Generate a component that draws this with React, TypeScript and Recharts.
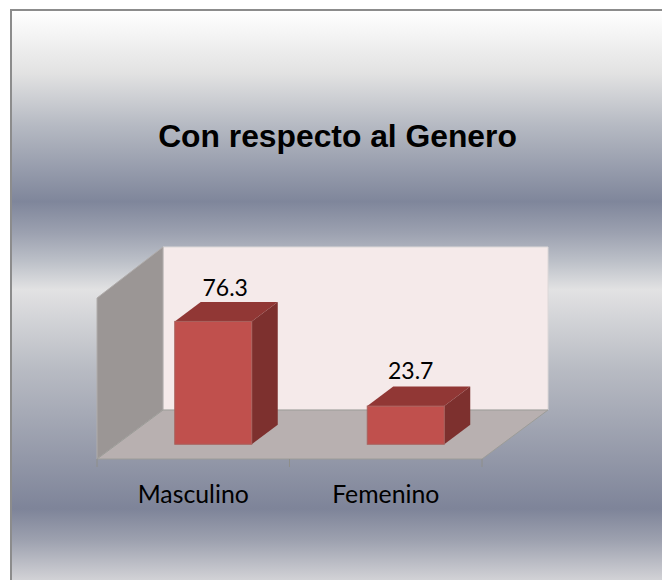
import { Bar, BarChart, LabelList, XAxis, YAxis, usePlotArea } from "recharts";

const categories = ["Masculino", "Femenino"];
const percentages = [76.3, 23.7];
const chartData = categories.map((name, i) => ({ name, value: percentages[i] }));

const WIDTH = 652;
const HEIGHT = 571;
const DEPTH_X = 66;
const DEPTH_Y = 49;
const WALL_RISE = 2; // back wall is a touch taller than the front plane
const BAR_DEPTH_X = 26;
const BAR_DEPTH_Y = 19.5;
// bars stand in the middle of the floor, not on its front edge
const BAR_SHIFT_X = (DEPTH_X - BAR_DEPTH_X) / 2;
const BAR_SHIFT_Y = (DEPTH_Y - BAR_DEPTH_Y) / 2;
// the labels were dragged by hand in the original
const labelNudge = [
  { dx: 12, dy: -6 },
  { dx: 5, dy: -8 },
];

const FONT = "Lato, 'Open Sans', sans-serif";

const Walls = () => {
  const plot = usePlotArea();
  if (!plot) return null;
  const { x, y, width, height } = plot;
  const right = x + width;
  const bottom = y + height;
  const backTop = y - DEPTH_Y - WALL_RISE;
  const ticks = categories.map((_, i) => x + (width * i) / categories.length).concat(right);
  return (
    <g>
      <polygon
        points={`${x + DEPTH_X},${backTop} ${right + DEPTH_X},${backTop} ${right + DEPTH_X},${bottom - DEPTH_Y} ${x + DEPTH_X},${bottom - DEPTH_Y}`}
        fill="#f5eaea"
        stroke="#dcd8d8"
      />
      <polygon
        points={`${x},${y} ${x + DEPTH_X},${backTop} ${x + DEPTH_X},${bottom - DEPTH_Y} ${x},${bottom}`}
        fill="#9b9695"
        stroke="#b0acab"
      />
      <polygon
        points={`${x},${bottom} ${right},${bottom} ${right + DEPTH_X},${bottom - DEPTH_Y} ${x + DEPTH_X},${bottom - DEPTH_Y}`}
        fill="#b8b0b0"
        stroke="#9c9c98"
      />
      {ticks.map((t) => (
        <line key={t} x1={t} x2={t} y1={bottom} y2={bottom + 8} stroke="#8e8e8a" />
      ))}
    </g>
  );
};

const Bar3D = ({ x, y, width, height }: any) => {
  const left = x + BAR_SHIFT_X;
  const top = y - BAR_SHIFT_Y;
  const right = left + width;
  const bottom = top + height;
  return (
    <g>
      <polygon
        points={`${left},${top} ${right},${top} ${right + BAR_DEPTH_X},${top - BAR_DEPTH_Y} ${left + BAR_DEPTH_X},${top - BAR_DEPTH_Y}`}
        fill="#913735"
      />
      <polygon
        points={`${right},${top} ${right + BAR_DEPTH_X},${top - BAR_DEPTH_Y} ${right + BAR_DEPTH_X},${bottom - BAR_DEPTH_Y} ${right},${bottom}`}
        fill="#7d302e"
      />
      <rect x={left} y={top} width={width} height={height} fill="#c0504d" stroke="#a8605c" strokeWidth={1} />
    </g>
  );
};

const ValueLabel = ({ x, y, width, value, index }: any) => {
  const nudge = labelNudge[index];
  return (
    <text
      x={x + BAR_SHIFT_X + width / 2 + nudge.dx}
      y={y - BAR_SHIFT_Y - BAR_DEPTH_Y + nudge.dy}
      textAnchor="middle"
      fontFamily={FONT}
      fontSize={23}
      fill="#000"
    >
      {value}
    </text>
  );
};

export default function App() {
  return (
    <div
      style={{
        position: "absolute",
        left: 10,
        top: 9,
        width: WIDTH,
        height: HEIGHT,
        boxSizing: "border-box",
        borderTop: "2px solid #8c8c8c",
        borderLeft: "2px solid #8c8c8c",
        background:
          "linear-gradient(180deg, #ffffff 0%, #e2e2e2 11%, #b6bac3 20%, #7f869b 33.5%, #9ca1b0 39%, #bcc0c8 44%, #e2e2e3 49%, #b8bbc3 63%, #7e8499 87.5%, #9da1af 93%, #d2d2d6 100%)",
      }}
    >
      <div
        style={{
          position: "absolute",
          left: 1,
          right: 0,
          top: 107,
          textAlign: "center",
          fontFamily: "'Liberation Sans', Arial, sans-serif",
          fontWeight: 700,
          fontSize: 31.8,
          color: "#000",
        }}
      >
        Con respecto al Genero
      </div>
      <BarChart
        width={WIDTH - 2}
        height={HEIGHT - 2}
        data={chartData}
        barCategoryGap="30%"
        margin={{ top: 287, left: 85, right: 180, bottom: 91 }}
        style={{ position: "absolute", left: 0, top: 0 }}
      >
        <Walls />
        <XAxis
          dataKey="name"
          axisLine={false}
          tickLine={false}
          height={30}
          tick={{ fontFamily: FONT, fontSize: 24.8, fill: "#000" }}
          tickMargin={20}
        />
        <YAxis type="number" domain={[0, 100]} hide />
        <Bar dataKey="value" shape={<Bar3D />} isAnimationActive={false}>
          <LabelList dataKey="value" content={<ValueLabel />} />
        </Bar>
      </BarChart>
    </div>
  );
}
